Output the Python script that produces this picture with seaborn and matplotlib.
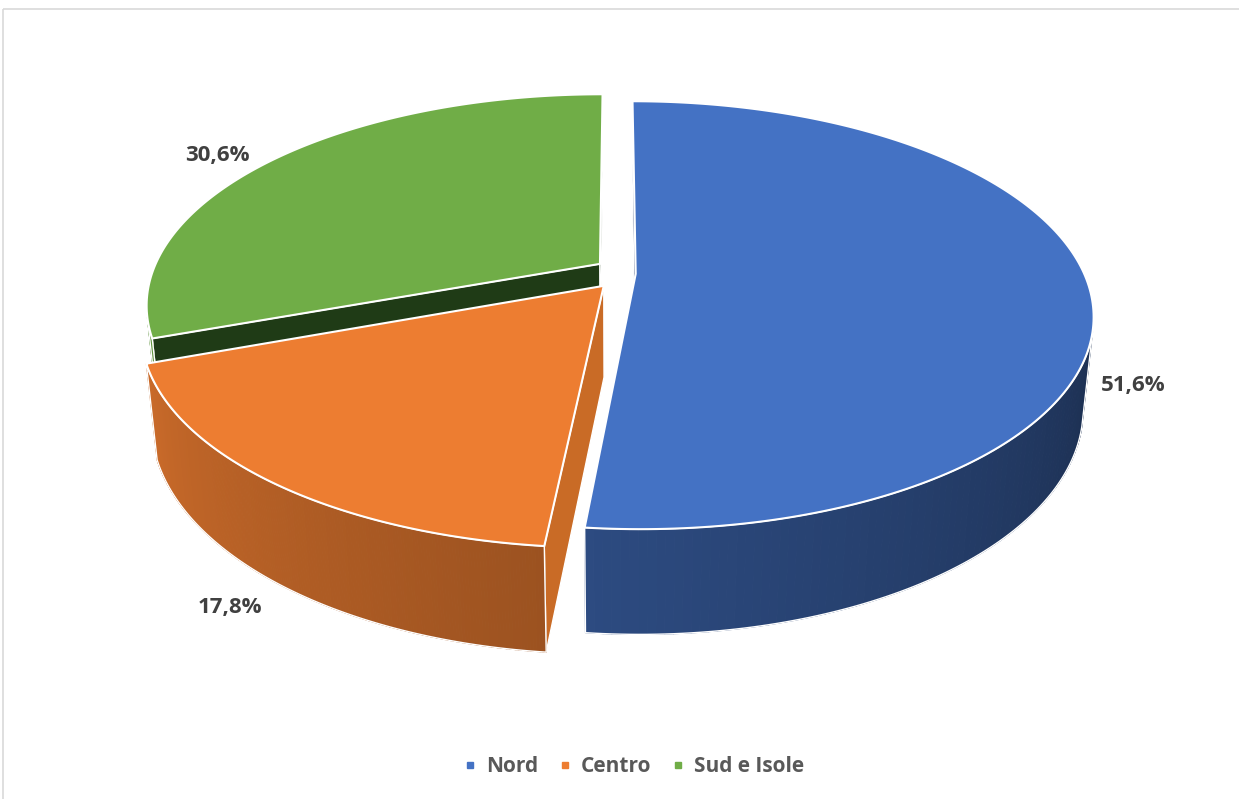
import numpy as np
import matplotlib
matplotlib.use("Agg")
import matplotlib.pyplot as plt
import seaborn as sns
from matplotlib.patches import Polygon, Rectangle
from matplotlib.collections import PolyCollection
from matplotlib.lines import Line2D


# ==========================================
# DATI
# ==========================================

categorie = ["Nord", "Centro", "Sud e Isole"]
quote = [51.6, 17.8, 30.6]
etichette = ["51,6%", "17,8%", "30,6%"]

colori = ["#4472C4", "#ED7D31", "#70AD47"]
colori_parete_radiale = ["#22396a", "#c96b26", "#1f3b16"]

# posizione (pixel) delle etichette dati
pos_etichette = [(1133, 385), (230, 607), (217, 156)]


# ==========================================
# PROIEZIONE 3D (prospettiva tipo Excel)
# ==========================================

W, H_PX = 1239, 799
ELEV = np.radians(26.5)
DIST = 4.63
SCALA_X = 2075
SCALA_Y = 2134
CX, CY = 616, 273
SPESSORE = 0.2245
ESPLOSO_X = 0.044
ESPLOSO_Y = 0.078

sin_e, cos_e = np.sin(ELEV), np.cos(ELEV)
camera = np.array([0.0, -DIST * cos_e, DIST * sin_e])


def proietta(x, y, z):
    depth = y * cos_e - z * sin_e + DIST
    sx = x / depth
    sy = (y * sin_e + z * cos_e) / depth
    return CX + SCALA_X * sx, CY - SCALA_Y * sy


def ombra(colore, f):
    r, g, b = matplotlib.colors.to_rgb(colore)
    return (r * f, g * f, b * f)


def luce_parete(theta):
    deg = np.degrees(theta)
    return float(np.clip(0.43 + 0.003 * (deg - 110), 0.40, 0.85))


sns.set_theme(style="white")
plt.rcParams["font.family"] = ["Open Sans", "DejaVu Sans"]

fig = plt.figure(figsize=(W / 100, H_PX / 100), dpi=100)
ax = fig.add_axes([0, 0, 1, 1])
ax.set_xlim(0, W)
ax.set_ylim(H_PX, 0)
ax.axis("off")

# cornice del grafico
ax.add_patch(Rectangle((3, 9), W, H_PX, fill=False,
                       edgecolor="#d9d9d9", lw=1.2, zorder=0))

# angoli delle fette (in senso orario dall'alto)
totale = sum(quote)
fine = np.cumsum(quote) / totale * 2 * np.pi
inizio = np.concatenate([[0.0], fine[:-1]])

fette = []
for i in range(len(quote)):
    t0, t1 = inizio[i], fine[i]
    m = (t0 + t1) / 2
    ox, oy = ESPLOSO_X * np.sin(m), ESPLOSO_Y * np.cos(m)
    fette.append((i, t0, t1, ox, oy))

# dal fondo verso l'osservatore
fette.sort(key=lambda f: -f[4])

z = 1
for i, t0, t1, ox, oy in fette:
    col = colori[i]
    theta = np.linspace(t0, t1, 200)
    rx = ox + np.sin(theta)
    ry = oy + np.cos(theta)

    # pareti radiali
    for t, normale in ((t0, (-np.cos(t0), np.sin(t0))),
                       (t1, (np.cos(t1), -np.sin(t1)))):
        dot = normale[0] * (camera[0] - ox) + normale[1] * (camera[1] - oy)
        if dot > 0:
            px, py = ox + np.sin(t), oy + np.cos(t)
            pts = [proietta(ox, oy, 0), proietta(px, py, 0),
                   proietta(px, py, -SPESSORE), proietta(ox, oy, -SPESSORE)]
            ax.add_patch(Polygon(pts, closed=True,
                                 facecolor=colori_parete_radiale[i],
                                 edgecolor="white", lw=1.0, zorder=z))

    # parete esterna
    vis = (np.sin(theta) * (camera[0] - rx)
           + np.cos(theta) * (camera[1] - ry)) > 0
    idx = np.where(vis)[0]
    if len(idx) > 1:
        quads, cols = [], []
        for a, b in zip(idx[:-1], idx[1:]):
            quads.append([proietta(rx[a], ry[a], 0), proietta(rx[b], ry[b], 0),
                          proietta(rx[b], ry[b], -SPESSORE),
                          proietta(rx[a], ry[a], -SPESSORE)])
            cols.append(ombra(col, luce_parete((theta[a] + theta[b]) / 2)))
        ax.add_collection(PolyCollection(quads, facecolors=cols,
                                         edgecolors=cols, lw=0.8, zorder=z))
        alto = [proietta(rx[k], ry[k], 0) for k in idx]
        basso = [proietta(rx[k], ry[k], -SPESSORE) for k in idx[::-1]]
        ax.add_patch(Polygon(alto + basso, closed=True, fill=False,
                             edgecolor="white", lw=1.0, zorder=z + 0.1))

    # faccia superiore
    top = [proietta(ox, oy, 0)] + [proietta(x, y, 0) for x, y in zip(rx, ry)]
    ax.add_patch(Polygon(top, closed=True, facecolor=col,
                         edgecolor="white", lw=1.5, zorder=z + 0.2))
    z += 1

# etichette dati
for testo, (x, y) in zip(etichette, pos_etichette):
    ax.text(x, y, testo, ha="center", va="center", fontsize=16,
            fontweight="bold", color="#404040", zorder=10)

# legenda
handles = [Line2D([], [], marker="s", linestyle="", markersize=5,
                  color=c) for c in colori]
ax.legend(handles, categorie, loc="center", ncol=3,
          bbox_to_anchor=(634 / W, 1 - 767 / H_PX), frameon=False,
          prop={"family": "Open Sans", "weight": "bold", "size": 15},
          labelcolor="#595959", handlelength=0.6, handletextpad=0.45,
          columnspacing=1.0)

fig.savefig("out.png", dpi=100, facecolor="white")
